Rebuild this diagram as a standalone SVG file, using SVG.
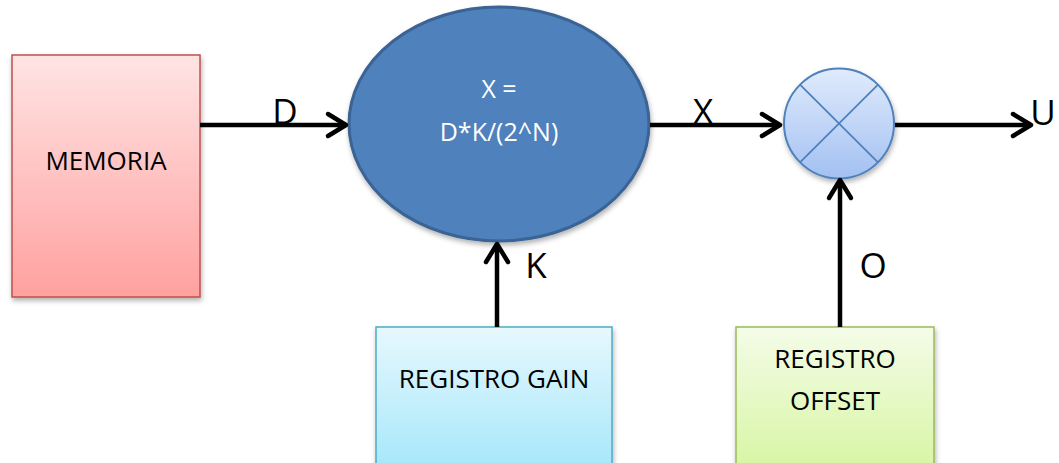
<svg xmlns="http://www.w3.org/2000/svg" width="1059" height="463" viewBox="0 0 1059 463">
<defs>
<linearGradient id="gRed" x1="0" y1="0" x2="0" y2="1"><stop offset="0" stop-color="#FFE4E4"/><stop offset="1" stop-color="#FFA19F"/></linearGradient>
<linearGradient id="gCyan" x1="0" y1="0" x2="0" y2="1"><stop offset="0" stop-color="#E6F8FD"/><stop offset="1" stop-color="#A3E6FB"/></linearGradient>
<linearGradient id="gGreen" x1="0" y1="0" x2="0" y2="1"><stop offset="0" stop-color="#F4FCE8"/><stop offset="1" stop-color="#D6F5A0"/></linearGradient>
<linearGradient id="gBlue" x1="0" y1="0" x2="0" y2="1"><stop offset="0" stop-color="#E0EBFC"/><stop offset="1" stop-color="#A3C0F2"/></linearGradient>
<filter id="sh" x="-10%" y="-10%" width="130%" height="130%"><feDropShadow dx="1" dy="3" stdDeviation="2.5" flood-color="#000" flood-opacity="0.3"/></filter>
<marker id="arr" markerUnits="userSpaceOnUse" markerWidth="30" markerHeight="30" viewBox="-22 -15 26 30" refX="0" refY="0" orient="auto" overflow="visible">
<path d="M-18,-11 L0,0 L-18,11" fill="none" stroke="#000" stroke-width="4.5" stroke-linecap="round" stroke-linejoin="round"/>
</marker>
<style>
.lbl{font-family:"Open Sans","Noto Sans",sans-serif;fill:#000}
.big{font-size:35px}
.conn{stroke:#000;stroke-width:4.5;fill:none;marker-end:url(#arr)}
</style>
</defs>
<rect width="1059" height="463" fill="#fff"/>
<g id="memoria">
<rect x="12" y="55" width="188" height="242" fill="url(#gRed)" stroke="#C0504D" stroke-width="1.5" filter="url(#sh)"/>
<text class="lbl" x="106" y="170" font-size="26" text-anchor="middle">MEMORIA</text>
</g>
<g id="calc">
<ellipse cx="499" cy="124" rx="150" ry="117" fill="#4F81BD" stroke="#3A6393" stroke-width="3" filter="url(#sh)"/>
<text class="lbl" x="499" y="98" font-size="25" text-anchor="middle" style="fill:#fff">X =</text>
<text class="lbl" x="499" y="141" font-size="25" text-anchor="middle" style="fill:#fff">D*K/(2^N)</text>
</g>
<g id="mult">
<circle cx="839" cy="123.5" r="55" fill="url(#gBlue)" stroke="#4F81BD" stroke-width="2" filter="url(#sh)"/>
<line x1="800" y1="84.6" x2="878" y2="162.4" stroke="#4F81BD" stroke-width="1.8"/>
<line x1="878" y1="84.6" x2="800" y2="162.4" stroke="#4F81BD" stroke-width="1.8"/>
</g>
<g id="gain">
<rect x="376" y="327" width="236" height="150" fill="url(#gCyan)" stroke="#4BACC6" stroke-width="1.5" filter="url(#sh)"/>
<text class="lbl" x="494" y="388" font-size="26" text-anchor="middle">REGISTRO GAIN</text>
</g>
<g id="offset">
<rect x="736" y="327" width="198" height="150" fill="url(#gGreen)" stroke="#9BBB59" stroke-width="1.5" filter="url(#sh)"/>
<text class="lbl" x="835" y="368" font-size="26" text-anchor="middle">REGISTRO</text>
<text class="lbl" x="835" y="410" font-size="26" text-anchor="middle">OFFSET</text>
</g>
<g id="connectors">
<line class="conn" x1="200" y1="125" x2="346" y2="125"/>
<line class="conn" x1="650" y1="125" x2="780" y2="125"/>
<line class="conn" x1="895" y1="125" x2="1031" y2="125"/>
<line class="conn" x1="497" y1="327" x2="497" y2="244"/>
<line class="conn" x1="840" y1="327" x2="840" y2="180"/>
<text class="lbl big" x="285" y="124" text-anchor="middle">D</text>
<text class="lbl big" x="703" y="124" text-anchor="middle">X</text>
<text class="lbl big" x="1043" y="125" text-anchor="middle">U</text>
<text class="lbl big" x="536" y="278" text-anchor="middle">K</text>
<text class="lbl big" x="873" y="278" text-anchor="middle">O</text>
</g>
</svg>
